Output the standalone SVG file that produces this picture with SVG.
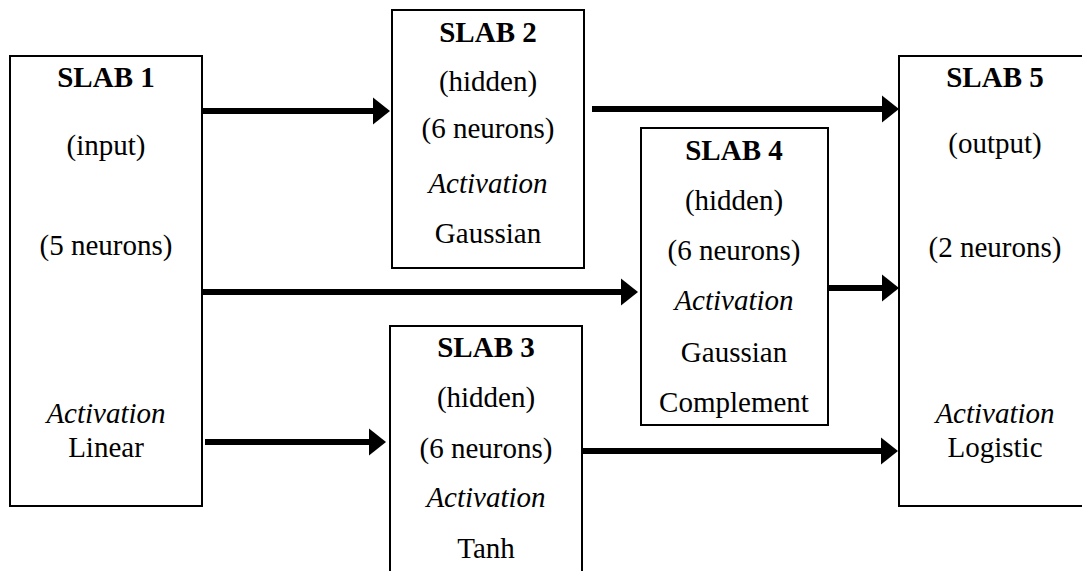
<svg xmlns="http://www.w3.org/2000/svg" width="1082" height="571" viewBox="0 0 1082 571">
<style>
  .box { fill: #ffffff; stroke: #000000; stroke-width: 2; }
  .t { font-family: "Liberation Serif", "Times New Roman", serif; font-size: 29px; fill: #000000; text-anchor: middle; }
  .b { font-weight: bold; }
  .i { font-style: italic; }
  .conn { stroke: #000000; stroke-width: 6; fill: none; }
</style>
<defs>
  <marker id="ah" markerUnits="userSpaceOnUse" markerWidth="18" markerHeight="28" viewBox="0 0 18 28" refX="2" refY="14" orient="auto">
    <path d="M0,0.5 L17,14 L0,27.5 Z" fill="#000000"/>
  </marker>
</defs>
<rect x="0" y="0" width="1082" height="571" fill="#ffffff"/>

<g id="slab1">
  <rect class="box" x="10" y="56" width="192" height="450"/>
  <text class="t b" x="106" y="87">SLAB 1</text>
  <text class="t" x="106" y="155">(input)</text>
  <text class="t" x="106" y="255">(5 neurons)</text>
  <text class="t i" x="106" y="423">Activation</text>
  <text class="t" x="106" y="457">Linear</text>
</g>

<g id="slab2">
  <rect class="box" x="392" y="10" width="192" height="258"/>
  <text class="t b" x="488" y="42">SLAB 2</text>
  <text class="t" x="488" y="91">(hidden)</text>
  <text class="t" x="488" y="138">(6 neurons)</text>
  <text class="t i" x="488" y="193">Activation</text>
  <text class="t" x="488" y="243">Gaussian</text>
</g>

<g id="slab3">
  <rect class="box" x="390" y="326" width="192" height="260"/>
  <text class="t b" x="486" y="357">SLAB 3</text>
  <text class="t" x="486" y="407">(hidden)</text>
  <text class="t" x="486" y="458">(6 neurons)</text>
  <text class="t i" x="486" y="507">Activation</text>
  <text class="t" x="486" y="558">Tanh</text>
</g>

<g id="slab4">
  <rect class="box" x="641" y="128" width="187" height="297"/>
  <text class="t b" x="734" y="160">SLAB 4</text>
  <text class="t" x="734" y="210">(hidden)</text>
  <text class="t" x="734" y="260">(6 neurons)</text>
  <text class="t i" x="734" y="310">Activation</text>
  <text class="t" x="734" y="362">Gaussian</text>
  <text class="t" x="734" y="412">Complement</text>
</g>

<g id="slab5">
  <rect class="box" x="899" y="56" width="200" height="450"/>
  <text class="t b" x="995" y="87">SLAB 5</text>
  <text class="t" x="995" y="153">(output)</text>
  <text class="t" x="995" y="257">(2 neurons)</text>
  <text class="t i" x="995" y="423">Activation</text>
  <text class="t" x="995" y="457">Logistic</text>
</g>

<g id="connectors">
  <line class="conn" x1="203" y1="111" x2="375" y2="111" marker-end="url(#ah)"/>
  <line class="conn" x1="592" y1="109" x2="884" y2="109" marker-end="url(#ah)"/>
  <line class="conn" x1="203" y1="292" x2="623" y2="292" marker-end="url(#ah)"/>
  <line class="conn" x1="829" y1="288" x2="884" y2="288" marker-end="url(#ah)"/>
  <line class="conn" x1="205" y1="442" x2="371" y2="442" marker-end="url(#ah)"/>
  <line class="conn" x1="583" y1="451" x2="883" y2="451" marker-end="url(#ah)"/>
</g>
</svg>
